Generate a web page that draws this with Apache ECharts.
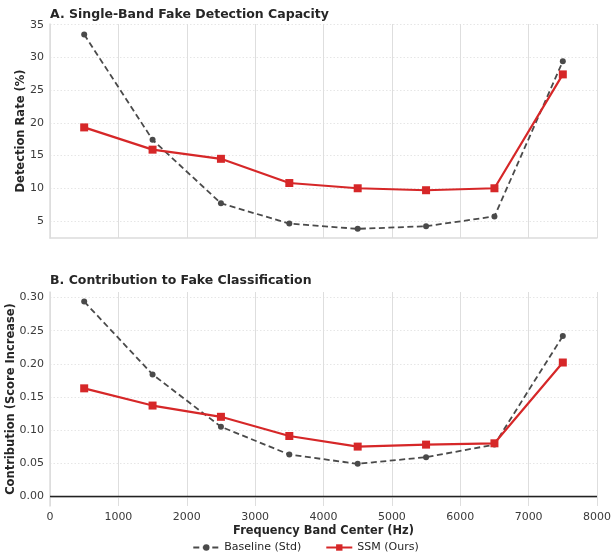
<!DOCTYPE html>
<html>
<head>
<meta charset="utf-8">
<script src="https://cdn.jsdelivr.net/npm/echarts@6/dist/echarts.min.js"></script>
<style>html,body{margin:0;padding:0;background:#fff}#c{width:611px;height:555px}</style>
</head>
<body>
<div id="c"></div>
<script>
const freqs = [500, 1500, 2500, 3500, 4500, 5500, 6500, 7500];
const detBaseline = [33.5, 17.4, 7.7, 4.6, 3.8, 4.2, 5.7, 29.4];
const detSSM = [19.3, 15.9, 14.5, 10.8, 10.0, 9.7, 10.0, 27.4];
const contribBaseline = [0.294, 0.184, 0.105, 0.063, 0.049, 0.059, 0.078, 0.242];
const contribSSM = [0.163, 0.137, 0.120, 0.091, 0.075, 0.078, 0.080, 0.202];
const xTicks = [0, 1000, 2000, 3000, 4000, 5000, 6000, 7000, 8000];
const detTicks = [5, 10, 15, 20, 25, 30, 35];
const contribTicks = [0, 0.05, 0.10, 0.15, 0.20, 0.25, 0.30];

const FONT = 'DejaVu Sans';
const RED = '#d62728';
const GRAY = '#4a4a4a';
const pair = (xs, ys) => xs.map((x, i) => [x, ys[i]]);

function xAx(gi, showLabels) {
  return {
    type: 'value', gridIndex: gi, min: 0, max: 8000, interval: 1000,
    axisLine: { show: true, lineStyle: { color: '#dcdcdc', width: 1.5 } },
    axisTick: { show: false },
    axisLabel: { show: showLabels, fontFamily: FONT, fontSize: 11, color: '#3a3a3a', margin: 6,
      customValues: xTicks, formatter: v => String(v) },
    splitLine: { show: true, lineStyle: { color: '#dedede', width: 1 } },
    name: showLabels ? 'Frequency Band Center (Hz)' : '',
    nameLocation: 'middle', nameGap: 20, nameMoveOverlap: false,
    nameTextStyle: { fontFamily: FONT, fontSize: 11.4, fontWeight: 'bold', color: '#262626' }
  };
}
function yAx(gi, min, max, ticks, name, gap, fmt) {
  return {
    type: 'value', gridIndex: gi, min: min, max: max,
    axisLine: { show: true, lineStyle: { color: '#dcdcdc', width: 1.5 } },
    axisTick: { show: false, customValues: ticks },
    axisLabel: { fontFamily: FONT, fontSize: 11, color: '#3a3a3a', margin: 6, customValues: ticks, formatter: fmt },
    splitLine: { show: true, lineStyle: { color: '#e6e6e6', width: 1, type: [1.5, 2] } },
    name: name, nameLocation: 'middle', nameGap: gap, nameMoveOverlap: false,
    nameTextStyle: { fontFamily: FONT, fontSize: 11.5, fontWeight: 'bold', color: '#262626' }
  };
}
function baseSeries(name, xi, yi, data) {
  return {
    name: name, type: 'line', xAxisIndex: xi, yAxisIndex: yi, data: data,
    symbol: 'circle', symbolSize: 6, z: 3,
    lineStyle: { color: GRAY, width: 1.8, type: [6, 3.5] },
    itemStyle: { color: GRAY }
  };
}
function ssmSeries(name, xi, yi, data) {
  return {
    name: name, type: 'line', xAxisIndex: xi, yAxisIndex: yi, data: data,
    symbol: 'rect', symbolSize: 8, z: 4,
    lineStyle: { color: RED, width: 2.2 },
    itemStyle: { color: RED }
  };
}

const chart = echarts.init(document.getElementById('c'), null, { renderer: 'canvas' });
const bottomSSM = ssmSeries('SSM (Ours)', 1, 1, pair(freqs, contribSSM));
bottomSSM.markLine = {
  silent: true, symbol: 'none', label: { show: false }, animation: false,
  lineStyle: { color: '#222', width: 1.3, type: 'solid' },
  data: [{ yAxis: 0 }]
};

chart.setOption({
  animation: false,
  title: [
    { text: 'A. Single-Band Fake Detection Capacity', left: 45, top: 3,
      textStyle: { fontFamily: FONT, fontSize: 12.5, fontWeight: 'bold', color: '#262626' } },
    { text: 'B. Contribution to Fake Classification', left: 45, top: 269,
      textStyle: { fontFamily: FONT, fontSize: 12.5, fontWeight: 'bold', color: '#262626' } }
  ],
  grid: [
    { left: 50, right: 14, top: 24, height: 214, outerBoundsMode: 'none', containLabel: false },
    { left: 50, right: 14, top: 292, height: 214, outerBoundsMode: 'none', containLabel: false }
  ],
  xAxis: [xAx(0, false), xAx(1, true)],
  yAxis: [
    yAx(0, 2.4, 35.1, detTicks, 'Detection Rate (%)', 23, v => String(v)),
    yAx(1, -0.0147, 0.3085, contribTicks, 'Contribution (Score Increase)', 33, v => v.toFixed(2))
  ],
  legend: {
    top: 537, left: 'center', itemGap: 24, itemWidth: 26, itemHeight: 8,
    textStyle: { fontFamily: FONT, fontSize: 11, color: '#262626' },
    data: ['Baseline (Std)', 'SSM (Ours)']
  },
  series: [
    baseSeries('Baseline (Std)', 0, 0, pair(freqs, detBaseline)),
    ssmSeries('SSM (Ours)', 0, 0, pair(freqs, detSSM)),
    baseSeries('Baseline (Std)', 1, 1, pair(freqs, contribBaseline)),
    bottomSSM
  ]
});
</script>
</body>
</html>
